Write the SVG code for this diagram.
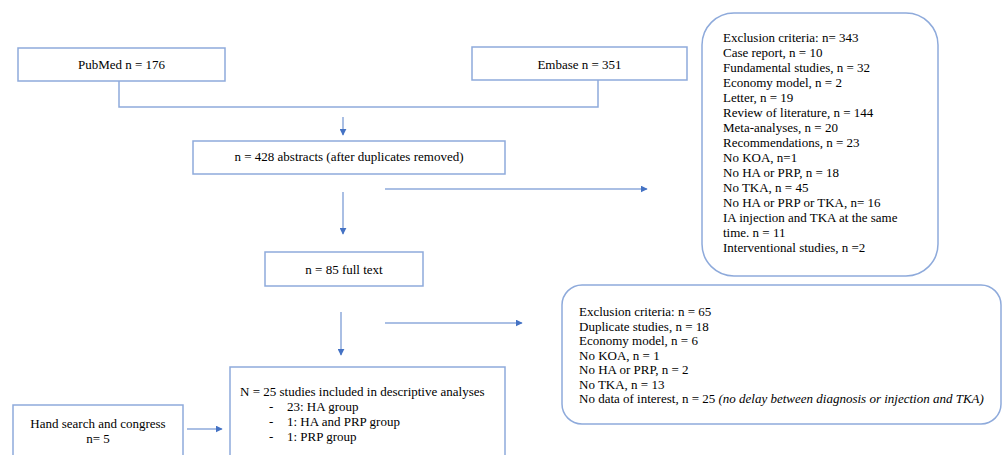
<svg xmlns="http://www.w3.org/2000/svg" width="1003" height="455" viewBox="0 0 1003 455">
<style>
.box{fill:#fff;stroke:#8eaadb;stroke-width:1.5}
.t{font-family:"Liberation Serif","Times New Roman",serif;font-size:13px;fill:#000}
.c{text-anchor:middle}
.ln{fill:none;stroke:#8eaadb;stroke-width:1.5}
.ar{fill:none;stroke:#8eaadb;stroke-width:1.5;marker-end:url(#ah)}
</style>
<defs>
<marker id="ah" viewBox="0 0 10 10" refX="9" refY="5" markerWidth="7" markerHeight="7" markerUnits="userSpaceOnUse" orient="auto">
<path d="M0,0 L10,5 L0,10 z" fill="#4472c4"/>
</marker>
</defs>
<rect width="1003" height="455" fill="#fff"/>
<g id="connectors">
<path class="ln" d="M119,81 V107 H598 V80"/>
<path class="ar" d="M343,117 V135"/>
<path class="ar" d="M385,189 H647"/>
<path class="ar" d="M343,192 V234"/>
<path class="ar" d="M341,312 V355"/>
<path class="ar" d="M385,323 H522"/>
<path class="ar" d="M187,429 H222"/>
</g>
<g id="pubmed">
<rect class="box" x="18" y="48" width="207" height="33"/>
<text class="t c" x="121.5" y="69">PubMed n = 176</text>
</g>
<g id="embase">
<rect class="box" x="472" y="47" width="215" height="33"/>
<text class="t c" x="579.5" y="69">Embase n = 351</text>
</g>
<g id="abstracts">
<rect class="box" x="193" y="141" width="312" height="33"/>
<text class="t c" x="349" y="161">n = 428 abstracts (after duplicates removed)</text>
</g>
<g id="exclusion1">
<rect class="box" x="702" y="13" width="236" height="263" rx="32" ry="32"/>
<text class="t" x="723" y="42">Exclusion criteria: n= 343</text>
<text class="t" x="723" y="57">Case report, n = 10</text>
<text class="t" x="723" y="72">Fundamental studies, n = 32</text>
<text class="t" x="723" y="87">Economy model, n = 2</text>
<text class="t" x="723" y="102">Letter, n = 19</text>
<text class="t" x="723" y="117">Review of literature, n = 144</text>
<text class="t" x="723" y="132">Meta-analyses, n = 20</text>
<text class="t" x="723" y="147">Recommendations, n = 23</text>
<text class="t" x="723" y="162">No KOA, n=1</text>
<text class="t" x="723" y="177">No HA or PRP, n = 18</text>
<text class="t" x="723" y="192">No TKA, n = 45</text>
<text class="t" x="723" y="207">No HA or PRP or TKA, n= 16</text>
<text class="t" x="723" y="222">IA injection and TKA at the same</text>
<text class="t" x="723" y="237">time. n = 11</text>
<text class="t" x="723" y="252">Interventional studies, n =2</text>
</g>
<g id="fulltext">
<rect class="box" x="265" y="252" width="158" height="34"/>
<text class="t c" x="344" y="274">n = 85 full text</text>
</g>
<g id="exclusion2">
<rect class="box" x="562" y="285" width="439" height="139" rx="20" ry="20"/>
<text class="t" x="579" y="316">Exclusion criteria: n = 65</text>
<text class="t" x="579" y="330.5">Duplicate studies, n = 18</text>
<text class="t" x="579" y="345">Economy model, n = 6</text>
<text class="t" x="579" y="359.5">No KOA, n = 1</text>
<text class="t" x="579" y="374">No HA or PRP, n = 2</text>
<text class="t" x="579" y="388.5">No TKA, n = 13</text>
<text class="t" x="579" y="403">No data of interest, n = 25 <tspan font-style="italic">(no delay between diagnosis or injection and TKA)</tspan></text>
</g>
<g id="included">
<rect class="box" x="230" y="367" width="275" height="100"/>
<text class="t" x="240" y="396">N = 25 studies included in descriptive analyses</text>
<text class="t" x="269" y="411">-</text><text class="t" x="287" y="411">23: HA group</text>
<text class="t" x="269" y="426">-</text><text class="t" x="287" y="426">1: HA and PRP group</text>
<text class="t" x="269" y="441">-</text><text class="t" x="287" y="441">1: PRP group</text>
</g>
<g id="handsearch">
<rect class="box" x="13" y="405" width="170" height="60"/>
<text class="t c" x="98" y="428">Hand search and congress</text>
<text class="t c" x="98" y="443">n= 5</text>
</g>
</svg>
